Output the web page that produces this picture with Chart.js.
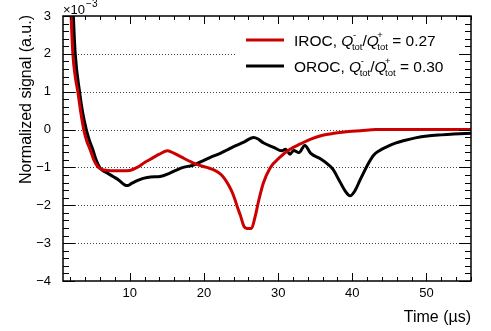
<!DOCTYPE html>
<html>
<head>
  <title>IROC / OROC normalized signal</title>
  <script src="https://cdn.jsdelivr.net/npm/chart.js"></script>
  <style>
    body { margin: 0; background: #fff; }
  </style>
</head>
<body>
  <canvas id="chart" width="491" height="331"></canvas>

  <script>
    // signal values are in units of 1e-3 (see the x10^-3 label on the y axis)
    var irocTime = [1.9, 2.1, 2.33, 2.65, 3.0, 3.4, 3.8, 4.2, 4.7, 5.2, 5.7, 6.3, 7, 8, 9, 10, 11, 12, 13, 14, 15.1, 16, 17, 18, 19, 20.4, 21.4, 22.2, 22.8, 23.3, 23.8, 24.2, 24.6, 24.9, 25.4, 25.8, 26.4, 26.9, 27.4, 28.0, 28.9, 30.3, 31.6, 33.0, 34.4, 36, 37.5, 39.5, 41.1, 43.2, 56];
    var irocSignal = [4.5, 3.0, 2.0, 1.4, 1.0, 0.45, 0.0, -0.3, -0.55, -0.82, -0.98, -1.06, -1.08, -1.09, -1.09, -1.08, -1.0, -0.87, -0.76, -0.65, -0.56, -0.63, -0.73, -0.83, -0.92, -1.0, -1.07, -1.17, -1.3, -1.46, -1.65, -1.86, -2.1, -2.26, -2.56, -2.61, -2.61, -2.3, -1.86, -1.42, -1.02, -0.72, -0.52, -0.38, -0.25, -0.15, -0.10, -0.05, -0.03, 0, 0];

    var orocTime = [2.2, 2.4, 2.65, 3.23, 3.65, 4.14, 4.55, 5.03, 5.5, 6.0, 6.5, 7.0, 7.75, 8.5, 9.3, 9.7, 10.2, 11, 11.8, 12.8, 14.1, 15.4, 16.3, 17.2, 18.6, 19.7, 20.8, 22.2, 23.1, 24.0, 25.3, 26.7, 27.3, 28.0, 29.4, 30.5, 31.0, 31.6, 32.1, 32.8, 33.6, 34.4, 35.7, 36.8, 37.4, 38.2, 39.1, 39.7, 40.4, 41.0, 41.6, 42.2, 42.9, 43.7, 44.7, 45.8, 47.0, 48.5, 50.1, 52, 53.7, 56];
    var orocSignal = [4.2, 3.0, 2.0, 1.0, 0.45, 0.0, -0.28, -0.54, -0.82, -1.02, -1.1, -1.15, -1.24, -1.33, -1.46, -1.48, -1.43, -1.35, -1.29, -1.25, -1.24, -1.15, -1.07, -1.0, -0.94, -0.84, -0.74, -0.63, -0.54, -0.45, -0.34, -0.21, -0.25, -0.35, -0.47, -0.56, -0.52, -0.65, -0.55, -0.61, -0.42, -0.63, -0.77, -0.93, -1.05, -1.33, -1.64, -1.75, -1.6, -1.35, -1.11, -0.88, -0.67, -0.55, -0.45, -0.36, -0.29, -0.22, -0.17, -0.14, -0.12, -0.10];

    var seriesNames = ['IROC', 'OROC'];
    var chargeRatios = ['0.27', '0.30'];
    var seriesColors = ['#cc0000', '#000000'];

    var xTicks = [10, 20, 30, 40, 50];
    var yTicks = [-4, -3, -2, -1, 0, 1, 2, 3];

    var FONT = '"Liberation Sans", Arial, sans-serif';

    function toPoints(xs, ys) {
      return xs.map(function (x, i) { return { x: x, y: ys[i] }; });
    }

    // ROOT style frame, inward ticks, dotted grid, titles and legend
    var rootStyle = {
      id: 'rootStyle',
      beforeDatasetsDraw: function (chart) {
        var c = chart.ctx, a = chart.chartArea, ys = chart.scales.y;
        c.save();
        c.strokeStyle = '#444';
        c.lineWidth = 1;
        c.setLineDash([1, 2]);
        yTicks.forEach(function (v) {
          if (v <= ys.min || v >= ys.max) return;
          var py = Math.round(ys.getPixelForValue(v)) + 0.5;
          c.beginPath();
          c.moveTo(a.left, py);
          c.lineTo(a.right, py);
          c.stroke();
        });
        c.restore();
      },
      afterDatasetsDraw: function (chart) {
        var c = chart.ctx, a = chart.chartArea;
        var xs = chart.scales.x, ys = chart.scales.y;
        c.save();

        // legend box
        c.fillStyle = '#fff';
        c.fillRect(237, 22, a.right - 238, 60);
        seriesNames.forEach(function (name, i) {
          var ly = 40 + i * 26;
          c.strokeStyle = seriesColors[i];
          c.lineWidth = 3;
          c.beginPath();
          c.moveTo(246, ly);
          c.lineTo(284, ly);
          c.stroke();
          drawLegendText(c, 294, ly + 6, name, chargeRatios[i]);
        });

        // frame
        c.strokeStyle = '#000';
        c.lineWidth = 1.5;
        c.strokeRect(a.left, a.top, a.right - a.left, a.bottom - a.top);

        // ticks
        c.lineWidth = 1;
        c.beginPath();
        var v, p, len;
        for (v = -4; v <= 3.001; v += 0.2) {
          p = Math.round(ys.getPixelForValue(v)) + 0.5;
          len = Math.abs(v - Math.round(v)) < 0.01 ? 12 : 6;
          c.moveTo(a.left, p); c.lineTo(a.left + len, p);
          c.moveTo(a.right, p); c.lineTo(a.right - len, p);
        }
        for (v = 2; v <= 56; v += 2) {
          p = Math.round(xs.getPixelForValue(v)) + 0.5;
          len = v % 10 === 0 ? 8 : 4;
          c.moveTo(p, a.bottom); c.lineTo(p, a.bottom - len);
          c.moveTo(p, a.top); c.lineTo(p, a.top + len);
        }
        c.stroke();

        // exponent label
        c.fillStyle = '#000';
        c.textAlign = 'left';
        c.textBaseline = 'alphabetic';
        c.font = '13px ' + FONT;
        c.fillText('\u00d710', a.left, 14);
        var w = c.measureText('\u00d710').width;
        c.font = '10px ' + FONT;
        c.fillText('\u22123', a.left + w + 1, 7);

        // axis titles
        c.font = '16px ' + FONT;
        c.textAlign = 'right';
        c.fillText('Time (\u00b5s)', a.right, 322);
        c.translate(31, a.top - 1);
        c.rotate(-Math.PI / 2);
        c.fillText('Normalized signal (a.u.)', 0, 0);
        c.restore();
      }
    };

    function drawLegendText(c, x, y, name, ratio) {
      c.fillStyle = '#000';
      c.textAlign = 'left';
      c.textBaseline = 'alphabetic';
      function part(text, font, dx, dy) {
        c.font = font;
        c.fillText(text, x + (dx || 0), y + (dy || 0));
        return c.measureText(text).width;
      }
      var normal = '15.5px ' + FONT, italic = 'italic 15.5px ' + FONT, small = '9.5px ' + FONT;
      x += part(name + ', ', normal);
      x += part('Q', italic) - 1.5;
      part('-', small, 1, -8);
      x += part('tot', small, 0, 4);
      x += part('/', normal);
      x += part('Q', italic) - 1.5;
      part('+', small, 0, -8);
      x += part('tot', small, 0, 4);
      part(' = ' + ratio, normal);
    }

    var ctx = document.getElementById('chart').getContext('2d');

    var chart = new Chart(ctx, {
      type: 'line',
      data: {
        datasets: [
          {
            label: seriesNames[0],
            data: toPoints(irocTime, irocSignal),
            borderColor: seriesColors[0],
            borderWidth: 3,
            pointRadius: 0,
            fill: false,
            cubicInterpolationMode: 'monotone'
          },
          {
            label: seriesNames[1],
            data: toPoints(orocTime, orocSignal),
            borderColor: seriesColors[1],
            borderWidth: 3,
            pointRadius: 0,
            fill: false,
            cubicInterpolationMode: 'monotone'
          }
        ]
      },
      options: {
        responsive: false,
        devicePixelRatio: 1,
        animation: false,
        layout: { padding: { left: 0, top: 16, right: 20, bottom: 0 } },
        plugins: { legend: { display: false }, tooltip: { enabled: false } },
        scales: {
          x: {
            type: 'linear',
            min: 1,
            max: 56,
            grid: { display: false },
            border: { display: false },
            afterBuildTicks: function (s) { s.ticks = xTicks.map(function (v) { return { value: v }; }); },
            afterFit: function (s) { s.height = 50; },
            ticks: { color: '#000', font: { family: FONT, size: 13 }, padding: -3, maxRotation: 0 }
          },
          y: {
            type: 'linear',
            min: -4,
            max: 3,
            grid: { display: false },
            border: { display: false },
            afterBuildTicks: function (s) { s.ticks = yTicks.map(function (v) { return { value: v }; }); },
            afterFit: function (s) { s.width = 63; },
            ticks: {
              color: '#000',
              font: { family: FONT, size: 13 },
              padding: 4,
              callback: function (v) { return String(v).replace('-', '\u2212'); }
            }
          }
        }
      },
      plugins: [rootStyle]
    });
  </script>
</body>
</html>
